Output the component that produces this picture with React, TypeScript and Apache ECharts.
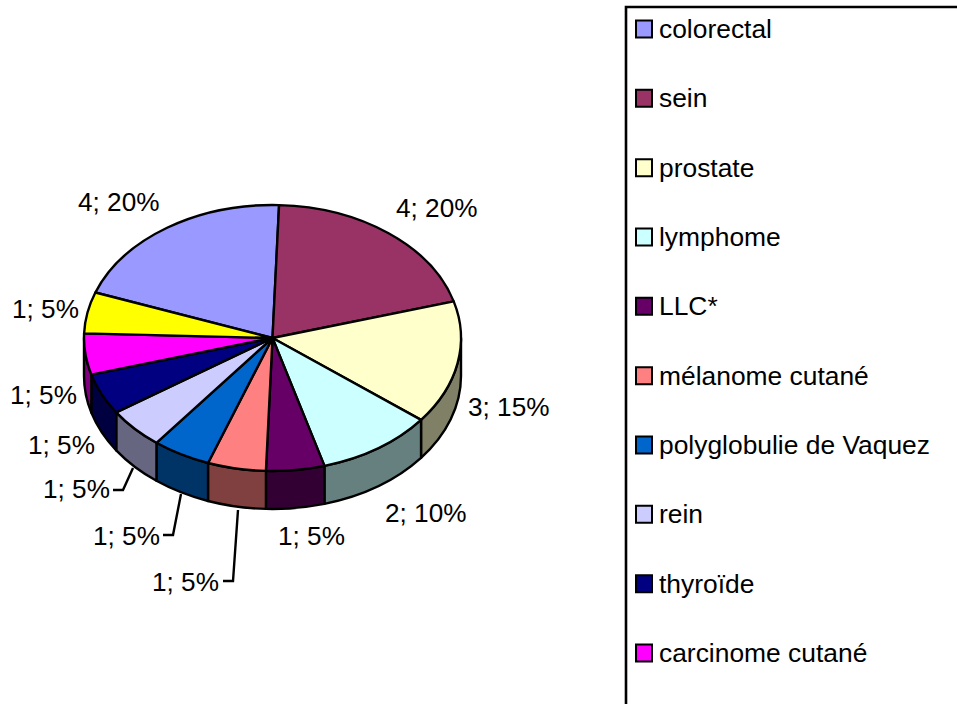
import React, { useEffect, useRef } from "react";
import * as echarts from "echarts";

const categories = ["colorectal", "sein", "prostate", "lymphome", "LLC*", "mélanome cutané", "polyglobulie de Vaquez", "rein", "thyroïde", "carcinome cutané", ""];
const values = [4, 4, 3, 2, 1, 1, 1, 1, 1, 1, 1];
const colors = ["#9999FF", "#993366", "#FFFFCC", "#CCFFFF", "#660066", "#FF8080", "#0066CC", "#CCCCFF", "#000080", "#FF00FF", "#FFFF00"];
const wallColors = ["#4D4D80", "#4D1A33", "#808066", "#668080", "#330033", "#804040", "#003366", "#666680", "#000040", "#800080", "#808000"];

// Label anchors (left, vertical centre) and leader polylines, per slice.
const labelAnchors = [[78, 202], [396, 208], [468, 407], [385, 513], [278, 536], [152, 582], [93, 536], [43, 489], [28, 445], [10, 395], [12, 309]];
const leaders: number[][][] = [[], [], [], [], [], [[238, 510], [233, 581], [223, 581]], [[181, 494], [173, 535], [163, 535]], [[133, 468], [123, 490], [113, 490]], [], [], []];

const CX = 272.5, CY = 338, RX = 188.5, RY = 133, DEPTH = 38;
const START_DEG = 290;
const FONT = "'Liberation Sans', Arial, sans-serif";
const LABEL_SIZE = 26.2;

const total = values.reduce((a, b) => a + b, 0);
const pt = (deg: number, dy = 0) => {
  const r = (deg * Math.PI) / 180;
  return [CX + RX * Math.sin(r), CY - RY * Math.cos(r) + dy];
};
const f = (p: number[]) => `${p[0].toFixed(2)} ${p[1].toFixed(2)}`;

function topPath(a: number, b: number) {
  const large = b - a > 180 ? 1 : 0;
  return `M ${CX} ${CY} L ${f(pt(a))} A ${RX} ${RY} 0 ${large} 1 ${f(pt(b))} Z`;
}
function wallPath(a: number, b: number) {
  return `M ${f(pt(a))} A ${RX} ${RY} 0 0 1 ${f(pt(b))} L ${f(pt(b, DEPTH))} A ${RX} ${RY} 0 0 0 ${f(pt(a, DEPTH))} Z`;
}

export default function App() {
  const ref = useRef<HTMLDivElement>(null);
  useEffect(() => {
    document.body.style.margin = "0";
    document.body.style.overflow = "hidden";
    const chart = echarts.init(ref.current!, null, { renderer: "svg" });
    let cum = 0;
    const series = values.map((v, i) => {
      const a0 = START_DEG + (cum / total) * 360;
      cum += v;
      return {
        type: "custom",
        name: categories[i],
        coordinateSystem: "none",
        itemStyle: { color: colors[i] },
        data: [[v]],
        silent: true,
        renderItem: (_: any, api: any) => {
          const val = api.value(0) as number;
          const a1 = a0 + (val / total) * 360;
          const children: any[] = [];
          const stroke = { stroke: "#000", lineWidth: 2.4, lineJoin: "round" };
          // the rim is visible only on the front half: 90deg to 270deg, also after one full turn
          for (const shift of [0, 360]) {
            const w0 = Math.max(a0, 90 + shift);
            const w1 = Math.min(a1, 270 + shift);
            if (w1 > w0) {
              children.push({ type: "path", z2: 1, shape: { pathData: wallPath(w0, w1) }, style: { fill: wallColors[i], ...stroke } });
            }
          }
          children.push({ type: "path", z2: 2, shape: { pathData: topPath(a0, a1) }, style: { fill: colors[i], ...stroke } });
          if (leaders[i].length) {
            children.push({ type: "polyline", z2: 3, shape: { points: leaders[i] }, style: { fill: "none", stroke: "#000", lineWidth: 2.4 } });
          }
          children.push({
            type: "text",
            z2: 4,
            style: {
              x: labelAnchors[i][0],
              y: labelAnchors[i][1],
              text: `${val}; ${Math.round((val / total) * 100)}%`,
              fill: "#000",
              font: `${LABEL_SIZE}px ${FONT}`,
              textAlign: "left",
              textVerticalAlign: "middle",
            },
          });
          return { type: "group", children };
        },
      };
    });
    chart.setOption({
      animation: false,
      backgroundColor: "#fff",
      legend: {
        orient: "vertical",
        left: 635,
        top: 15,
        height: 800,
        padding: 0,
        itemWidth: 16,
        itemHeight: 17,
        itemGap: 41.33,
        selectedMode: false,
        icon: "rect",
        data: categories.filter((c) => c),
        formatter: (n: string) => n,
        itemStyle: { borderColor: "#000", borderWidth: 2 },
        textStyle: { fontFamily: FONT, fontSize: 26.4, color: "#000", padding: [0, 0, 0, 2], lineHeight: 28 },
      },
      graphic: [
        { type: "rect", shape: { x: 626, y: 7, width: 500, height: 900 }, style: { fill: "none", stroke: "#000", lineWidth: 2.6 } },
      ],
      series,
    });
    return () => chart.dispose();
  }, []);
  return <div ref={ref} style={{ position: "absolute", left: 0, top: 0, width: 957, height: 704 }} />;
}
